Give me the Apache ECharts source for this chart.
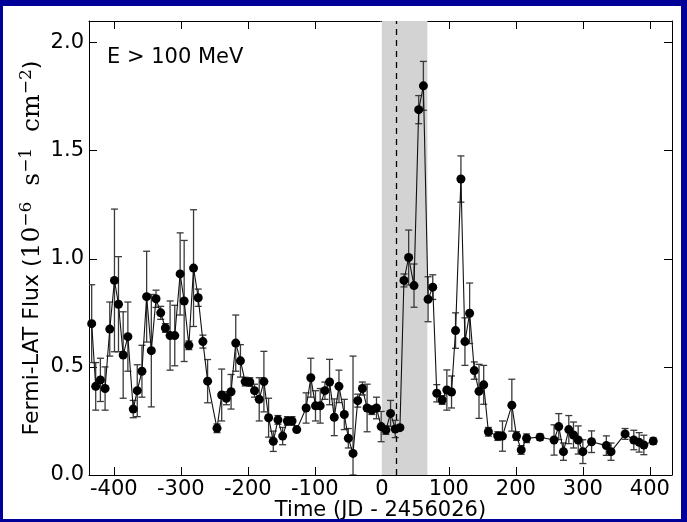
<!DOCTYPE html>
<html>
<head>
<meta charset="utf-8">
<script src="https://cdn.jsdelivr.net/npm/echarts@6/dist/echarts.min.js"></script>
<style>
html,body{margin:0;padding:0;background:#fff;}
#chart{position:absolute;left:0;top:0;width:687px;height:522px;}
#frame{position:absolute;left:0;top:0;width:687px;height:522px;box-sizing:border-box;
  border-style:solid;border-color:#000099;border-width:6px 6px 3px 3px;pointer-events:none;}
</style>
</head>
<body>
<div id="chart"></div>
<div id="frame"></div>
<script>
// ---- data ----
const days = [-433,-427,-420,-413,-406,-399,-393,-386,-379,-371,-365,-358,-351,-344,-337,-330,-323,-316,-309,-301,
  -295,-288,-281,-274,-267,-260,-246,-239,-232,-225,-218,-211,-204,-197,-190,-183,-176,-169,-162,-155,
  -148,-141,-134,-127,-113,-106,-99,-92,-85,-78,-71,-64,-56,-50,-43,-36,-29,-22,-15,-8,
  -1,6,13,20,27,33,40,48,55,62,69,76,82,90,97,104,110,118,124,131,
  138,145,152,159,173,180,194,201,208,216,236,257,264,271,279,286,293,300,313,335,
  342,363,376,384,391,405];
const flux = [0.70,0.41,0.44,0.40,0.675,0.90,0.79,0.555,0.64,0.305,0.39,0.48,0.825,0.575,0.815,0.75,0.68,0.645,0.645,0.93,
  0.805,0.60,0.957,0.82,0.617,0.434,0.216,0.37,0.355,0.385,0.61,0.528,0.432,0.43,0.39,0.35,0.432,0.265,0.156,0.255,
  0.18,0.25,0.25,0.21,0.31,0.45,0.32,0.32,0.39,0.43,0.267,0.41,0.28,0.17,0.10,0.344,0.40,0.31,0.30,0.31,
  0.224,0.208,0.285,0.213,0.219,0.90,1.006,0.876,1.69,1.80,0.813,0.869,0.378,0.347,0.393,0.384,0.668,1.369,0.617,0.748,
  0.483,0.387,0.417,0.20,0.18,0.18,0.323,0.18,0.116,0.17,0.175,0.162,0.224,0.108,0.21,0.185,0.162,0.108,0.154,0.136,
  0.108,0.19,0.162,0.151,0.139,0.157];
const fluxErr = [0.18,0.11,0.10,0.10,0.125,0.33,0.22,0.20,0.16,0.04,0.12,0.12,0.21,0.26,0.04,0.03,0.02,0.16,0.14,0.19,
  0.28,0.02,0.27,0.04,0.03,0.10,0.02,0.12,0.03,0.08,0.13,0.075,0.02,0.02,0.03,0.10,0.14,0.09,0.047,0.02,
  0.04,0.02,0.02,0.01,0.07,0.09,0.07,0.08,0.04,0.105,0.085,0.075,0.07,0.045,0.45,0.03,0.03,0.11,0.02,0.05,
  0.07,0.02,0.06,0.04,0.01,0.03,0.127,0.10,0.065,0.113,0.104,0.057,0.04,0.02,0.093,0.074,0.082,0.107,0.11,0.14,
  0.04,0.125,0.09,0.02,0.02,0.07,0.12,0.02,0.02,0.02,0.015,0.07,0.06,0.04,0.065,0.06,0.065,0.055,0.05,0.045,
  0.04,0.025,0.045,0.045,0.045,0.015];
const xTicks = [-400,-300,-200,-100,0,100,200,300,400];
const yTicks = [0,0.5,1.0,1.5,2.0];
const xRange = [-437, 433];
const yRange = [0, 2.1];
const flareWindow = [0, 68];
const markerDay = 21;
const panelLabel = 'E > 100 MeV';

// ---- build ----
const points = days.map((d,i)=>[d, flux[i]]);
const bars = days.map((d,i)=>[d, Math.max(0, flux[i]-fluxErr[i]), flux[i]+fluxErr[i]]);

const chart = echarts.init(document.getElementById('chart'));
const tickFont = {fontFamily:'DejaVu Sans', fontSize:21, color:'#000'};
const baseX = {
  type:'value', min:xRange[0], max:xRange[1],
  axisLine:{show:true, onZero:false, lineStyle:{color:'#000', width:1}},
  splitLine:{show:false},
  axisTick:{show:true, inside:true, length:8, customValues:xTicks, lineStyle:{color:'#000'}},
};
const baseY = {
  type:'value', min:yRange[0], max:yRange[1],
  axisLine:{show:true, onZero:false, lineStyle:{color:'#000', width:1}},
  splitLine:{show:false},
  axisTick:{show:true, inside:true, length:8, customValues:yTicks, lineStyle:{color:'#000'}},
};
chart.setOption({
  animation:false,
  backgroundColor:'#fff',
  grid:{left:89, right:15, top:21, bottom:47, containLabel:false, outerBoundsMode:'none'},
  xAxis:[
    Object.assign({}, baseX, {position:'bottom',
      axisLabel:Object.assign({customValues:xTicks, margin:4}, tickFont),
      name:'Time (JD - 2456026)', nameLocation:'middle', nameGap:25, nameMoveOverlap:false,
      nameTextStyle:{fontFamily:'DejaVu Sans', fontSize:21, color:'#000'}}),
    Object.assign({}, baseX, {position:'top', axisLabel:{show:false}})
  ],
  yAxis:[
    Object.assign({}, baseY, {position:'left',
      axisLabel:Object.assign({customValues:yTicks, margin:5,
        formatter:v=>v.toFixed(1)}, tickFont),
      name:'{a|Fermi-LAT Flux (}{b|10}{s|−6}{b|  s}{s|−1}{b|  cm}{s|−2}{a|)}',
      nameLocation:'middle', nameGap:42, nameRotate:90, nameMoveOverlap:false,
      nameTextStyle:{rich:{
        a:{fontFamily:'DejaVu Sans', fontSize:22, color:'#000'},
        b:{fontFamily:'DejaVu Serif', fontSize:25, color:'#000'},
        s:{fontFamily:'DejaVu Serif', fontSize:17, color:'#000', verticalAlign:'top', padding:[0,0,12,0]}
      }}}),
    Object.assign({}, baseY, {position:'right', axisLabel:{show:false}})
  ],
  graphic:[{type:'text', left:107, top:47, z:100,
    style:{text:panelLabel, font:'21px "DejaVu Sans"', fill:'#000'}}],
  series:[
    {type:'line', data:[], z:1, silent:true,
      markArea:{silent:true, itemStyle:{color:'#d3d3d3'}, data:[[{xAxis:flareWindow[0]},{xAxis:flareWindow[1]}]]},
      markLine:{silent:true, symbol:'none', label:{show:false},
        lineStyle:{color:'#000', type:[6,5], width:1.3}, data:[{xAxis:markerDay}]}
    },
    {type:'custom', z:3, clip:true, data:bars, encode:{x:0, y:[1,2]},
      renderItem:function(params, api){
        const x = api.value(0);
        const lo = api.coord([x, api.value(1)]);
        const hi = api.coord([x, api.value(2)]);
        const w = 3.5;
        const st = {stroke:'#3a3a3a', lineWidth:1.3};
        return {type:'group', children:[
          {type:'line', shape:{x1:lo[0], y1:lo[1], x2:hi[0], y2:hi[1]}, style:st},
          {type:'line', shape:{x1:lo[0]-w, y1:lo[1], x2:lo[0]+w, y2:lo[1]}, style:st},
          {type:'line', shape:{x1:hi[0]-w, y1:hi[1], x2:hi[0]+w, y2:hi[1]}, style:st}
        ]};
      }
    },
    {type:'line', z:4, data:points, symbol:'circle', symbolSize:9, showAllSymbol:true,
      lineStyle:{color:'#111', width:1.1}, itemStyle:{color:'#000'}}
  ]
});
</script>
</body>
</html>
